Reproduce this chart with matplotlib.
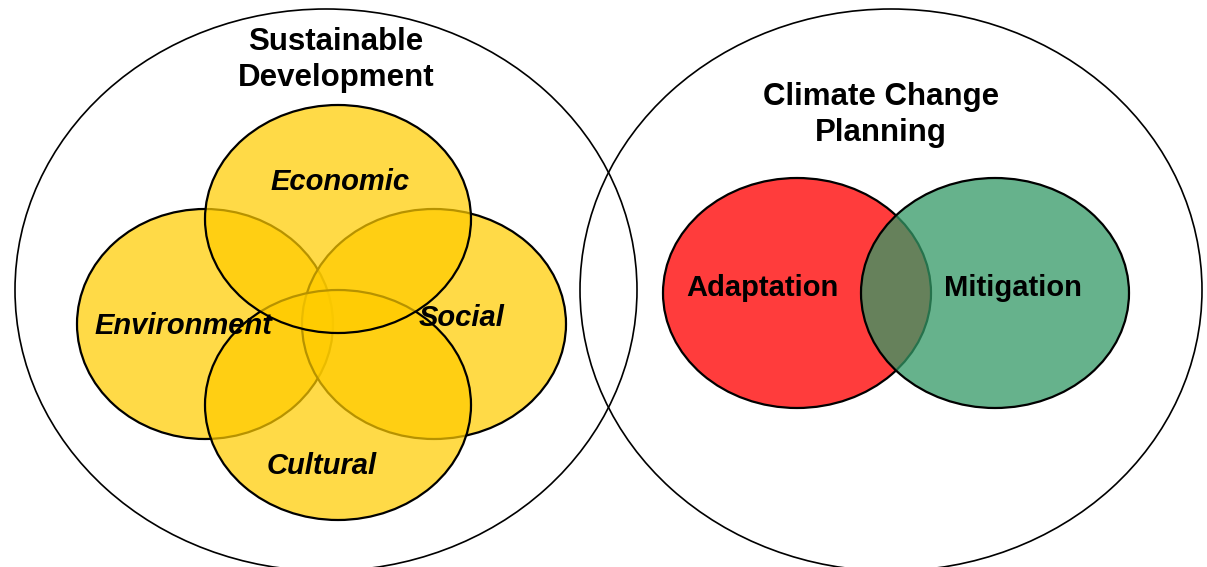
import matplotlib
matplotlib.use("Agg")
import matplotlib.pyplot as plt
from matplotlib.patches import Ellipse

# ---- data ----
outer_labels = ["Sustainable\nDevelopment", "Climate Change\nPlanning"]
outer_centers = [(326, 290), (891, 290)]
outer_size = [(622, 562), (622, 562)]
outer_label_pos = [(336, 60), (881, 115)]

sd_labels = ["Environment", "Social", "Cultural", "Economic"]
sd_centers = [(205, 324), (434, 324), (338, 405), (338, 219)]
sd_size = [(256, 230), (264, 230), (266, 230), (266, 228)]
sd_label_pos = [(183, 326), (462, 318), (322, 466), (340, 182)]

cc_labels = ["Adaptation", "Mitigation"]
cc_centers = [(797, 293), (995, 293)]
cc_size = [(268, 230), (268, 230)]
cc_label_pos = [(762, 288), (1013, 288)]
cc_colors = [(1.0, 0.1, 0.1, 0.85), (0.2, 0.6, 0.4, 0.75)]

yellow = (1.0, 0.8, 0.0, 0.72)

plt.rcParams['font.family'] = ['Liberation Sans', 'DejaVu Sans']

fig = plt.figure(figsize=(12.07, 5.67), dpi=100)
ax = fig.add_axes([0, 0, 1, 1])
ax.set_xlim(0, 1207)
ax.set_ylim(567, 0)
ax.axis('off')

for c, (w, h) in zip(outer_centers, outer_size):
    ax.add_patch(Ellipse(c, w, h, facecolor='none', edgecolor='black', lw=1.2))

for c, (w, h) in zip(sd_centers, sd_size):
    ax.add_patch(Ellipse(c, w, h, facecolor=yellow, edgecolor='black', lw=1.6))

for c, (w, h), col in zip(cc_centers, cc_size, cc_colors):
    ax.add_patch(Ellipse(c, w, h, facecolor=col, edgecolor='black', lw=1.6))

for t, p in zip(outer_labels, outer_label_pos):
    ax.text(p[0], p[1], t, ha='center', va='center', fontsize=22.5,
            fontweight='bold', linespacing=1.3)

for t, p in zip(sd_labels, sd_label_pos):
    ax.text(p[0], p[1], t, ha='center', va='center', fontsize=21,
            fontweight='bold', fontstyle='italic')

for t, p in zip(cc_labels, cc_label_pos):
    ax.text(p[0], p[1], t, ha='center', va='center', fontsize=21,
            fontweight='bold')

fig.savefig('out.png', dpi=100)
